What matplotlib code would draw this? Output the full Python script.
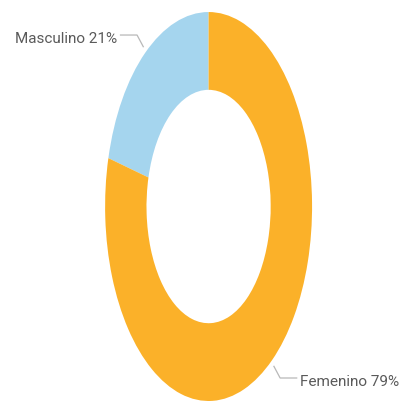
import numpy as np
import matplotlib
matplotlib.use('Agg')
import matplotlib.pyplot as plt

labels = ['Masculino', 'Femenino']
shares = [21, 79]
colors = ['#a5d5ee', '#fbb129']

plt.rcParams['font.family'] = ['Roboto', 'DejaVu Sans']

fig = plt.figure(figsize=(4.09, 4.01), dpi=100)
# stretched (non-square) axes so the donut comes out as a tall ellipse like the source
ax = fig.add_axes([0.257, 0.0, 0.506, 0.97])
wedges, _ = ax.pie(shares, colors=colors, startangle=90, counterclock=True,
                   radius=1.0, wedgeprops=dict(width=0.40, edgecolor='none'))
ax.set_aspect('auto')
ax.set_xlim(-1, 1)
ax.set_ylim(-1, 1)
ax.axis('off')

# leader lines + labels
for w, lab, pct in zip(wedges, labels, shares):
    mid = np.deg2rad((w.theta1 + w.theta2) / 2)
    x0, y0 = 1.03 * np.cos(mid), 1.04 * np.sin(mid)
    sx = np.sign(np.cos(mid))
    sy = np.sign(np.sin(mid))
    x1, y1 = x0 + sx * 0.06, y0 + sy * 0.06
    x2 = x1 + sx * 0.16
    ax.plot([x0, x1, x2], [y0, y1, y1], color='#b8b8b8', lw=0.9, clip_on=False)
    ax.text(x2 + sx * 0.03, y1 - 0.02, f'{lab} {pct}%', ha='left' if sx > 0 else 'right',
            va='center', fontsize=11, color='#5a5a5a', clip_on=False)

fig.savefig('out.png', dpi=100)
